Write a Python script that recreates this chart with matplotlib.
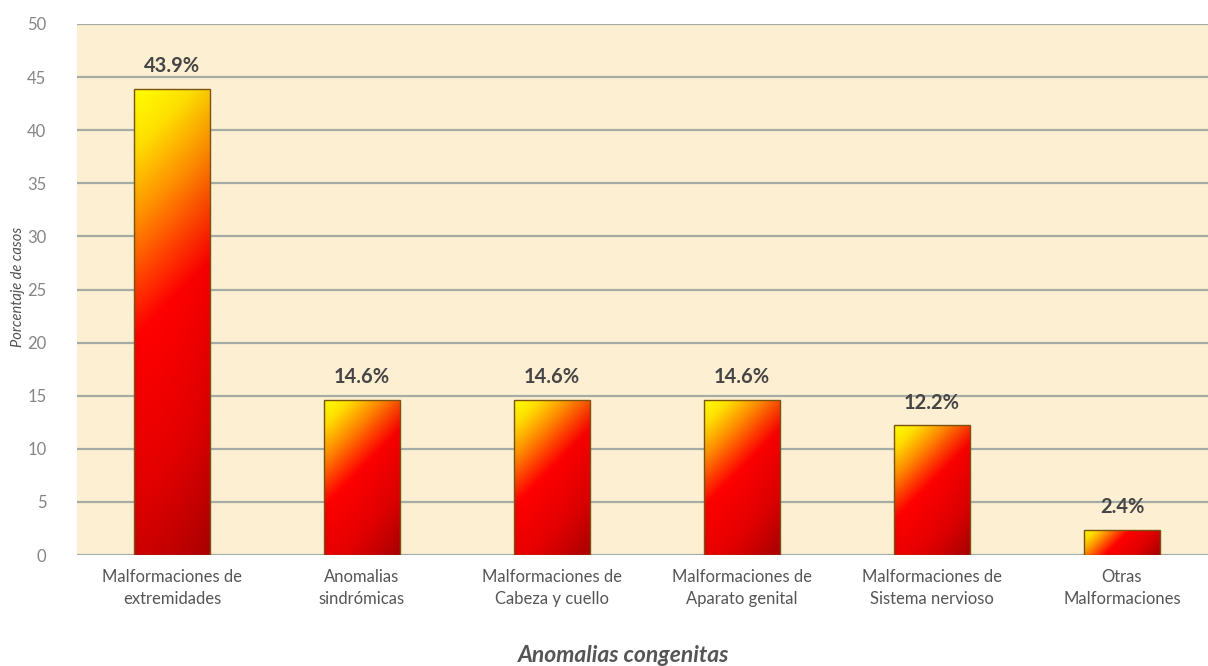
import numpy as np
import matplotlib
matplotlib.use("Agg")
import matplotlib.pyplot as plt
from matplotlib.colors import LinearSegmentedColormap

# datos: porcentaje de casos por tipo de anomalía
categorias = ["Malformaciones de\nextremidades", "Anomalias\nsindrómicas",
              "Malformaciones de\nCabeza y cuello", "Malformaciones de\nAparato genital",
              "Malformaciones de\nSistema nervioso", "Otras\nMalformaciones"]
porcentajes = [43.9, 14.6, 14.6, 14.6, 12.2, 2.4]
etiquetas = ["43.9%", "14.6%", "14.6%", "14.6%", "12.2%", "2.4%"]
yticks = [0, 5, 10, 15, 20, 25, 30, 35, 40, 45, 50]

plt.rcParams['font.family'] = ['Lato', 'DejaVu Sans']

fig = plt.figure(figsize=(12.08, 6.66), dpi=100)
ax = fig.add_axes([77 / 1208, 1 - 555 / 666, 1 - 77 / 1208, (555 - 24) / 666])
ax.set_facecolor('#fdefd1')
ax.set_xlim(-0.5, 5.5 - 9 / 190)
ax.set_ylim(0, 50)
ax.set_yticks(yticks)
ax.yaxis.grid(True, color='#a3aca5', linewidth=1.6)
ax.set_axisbelow(True)
for s in ax.spines.values():
    s.set_visible(False)
ax.tick_params(length=0)
ax.tick_params(axis='y', labelsize=12, labelcolor='#858585', pad=22)
ax.tick_params(axis='x', labelsize=12, labelcolor='#555555', pad=10)

x = np.arange(len(categorias))
ax.set_xticks(x)
ax.set_xticklabels(categorias, linespacing=1.45)

# degradado "fuego" en diagonal a 45 grados (en pixeles)
fuego = LinearSegmentedColormap.from_list(
    'fuego', [(0.0, '#ffff00'), (0.11, '#ffe000'), (0.25, '#ff8c00'),
              (0.35, '#ff4800'), (0.46, '#ff0000'), (0.75, '#e40000'),
              (1.0, '#b40000')])

ancho = 0.4
barras = ax.bar(x, porcentajes, width=ancho, facecolor='none',
                edgecolor='#7a5212', linewidth=1.0, zorder=3)
for b, h in zip(barras, porcentajes):
    x0, x1 = b.get_x(), b.get_x() + b.get_width()
    (px0, py0), (px1, py1) = ax.transData.transform([(x0, 0), (x1, h)])
    w_px, h_px = abs(px1 - px0), abs(py1 - py0)
    nx, ny = 60, max(int(h_px), 4)
    u = np.linspace(0, 1, nx)[None, :] * w_px
    v = np.linspace(0, 1, ny)[:, None] * h_px   # 0 arriba
    t = (u + v) / (w_px + h_px)
    img = fuego(t)[..., :3]
    # bandas verticales suaves, mas marcadas en la zona roja
    s = np.linspace(0, 1, nx)
    lado = 0.07 * np.exp(-(s / 0.06) ** 2) + 0.07 * s ** 3
    img = img * (1 - lado[None, :, None] * (0.3 + 0.7 * t[..., None]))
    im = ax.imshow(img, extent=(x0, x1, 0, h), origin='upper',
                   aspect='auto', zorder=2, interpolation='bilinear')
    im.set_clip_path(b)

for xi, h, lab in zip(x, porcentajes, etiquetas):
    ax.text(xi, h + 1.2, lab, ha='center', va='bottom', fontsize=14.5,
            fontweight='bold', color='#454545')

ax.set_xlim(-0.5, 5.5 - 9 / 190)
ax.set_ylim(0, 50)

fig.text(18 / 1208, 1 - 287 / 666, "Porcentaje de casos", rotation=90,
         ha='center', va='center', fontsize=10.5, style='italic', color='#505050')
fig.text(624 / 1208, 1 - 655 / 666, "Anomalias congenitas", ha='center',
         va='center', fontsize=16.5, style='italic', fontweight='bold', color='#555555')

fig.savefig('out.png', dpi=100, facecolor='white')
